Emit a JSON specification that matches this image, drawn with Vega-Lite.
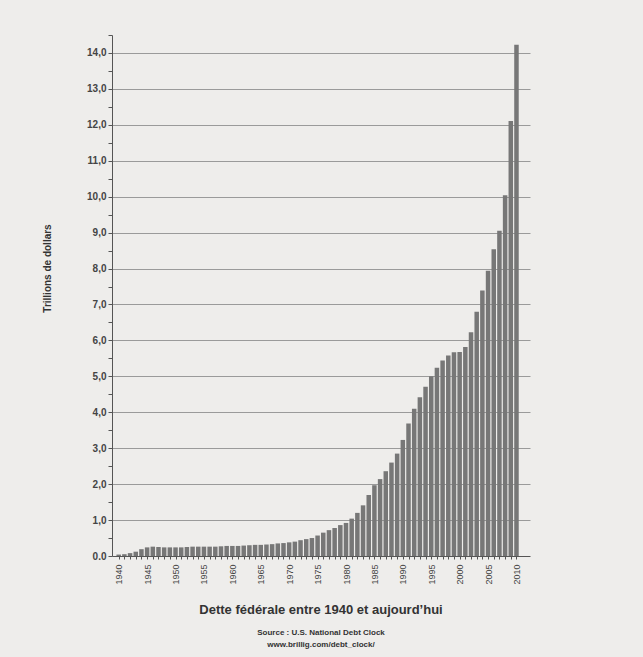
{
  "$schema": "https://vega.github.io/schema/vega-lite/v6.json",
  "autosize": "none",
  "width": 418,
  "height": 521,
  "padding": {"left": 112, "top": 35, "right": 113, "bottom": 101},
  "background": "#eeedeb",
  "config": {
    "font": "Liberation Sans",
    "view": {"stroke": null},
    "title": {"color": "#333333"}
  },
  "title": {
    "text": "Dette fédérale entre 1940 et aujourd’hui",
    "subtitle": ["Source : U.S. National Debt Clock", "www.brillig.com/debt_clock/"],
    "orient": "bottom",
    "anchor": "middle",
    "font": "Liberation Sans",
    "fontSize": 13,
    "fontWeight": "bold",
    "color": "#333333",
    "subtitleFont": "Liberation Sans",
    "subtitleFontSize": 8,
    "subtitleFontWeight": "bold",
    "subtitleColor": "#333333",
    "subtitlePadding": 12,
    "subtitleLineHeight": 12,
    "offset": 20
  },
  "data": {
    "values": [
      {"year": 1940, "debt": 0.04}, {"year": 1941, "debt": 0.05}, {"year": 1942, "debt": 0.08},
      {"year": 1943, "debt": 0.12}, {"year": 1944, "debt": 0.19}, {"year": 1945, "debt": 0.24},
      {"year": 1946, "debt": 0.26}, {"year": 1947, "debt": 0.25}, {"year": 1948, "debt": 0.24},
      {"year": 1949, "debt": 0.24}, {"year": 1950, "debt": 0.24}, {"year": 1951, "debt": 0.24},
      {"year": 1952, "debt": 0.25}, {"year": 1953, "debt": 0.26}, {"year": 1954, "debt": 0.26},
      {"year": 1955, "debt": 0.26}, {"year": 1956, "debt": 0.26}, {"year": 1957, "debt": 0.26},
      {"year": 1958, "debt": 0.27}, {"year": 1959, "debt": 0.28}, {"year": 1960, "debt": 0.28},
      {"year": 1961, "debt": 0.28}, {"year": 1962, "debt": 0.29}, {"year": 1963, "debt": 0.30},
      {"year": 1964, "debt": 0.31}, {"year": 1965, "debt": 0.31}, {"year": 1966, "debt": 0.32},
      {"year": 1967, "debt": 0.33}, {"year": 1968, "debt": 0.35}, {"year": 1969, "debt": 0.36},
      {"year": 1970, "debt": 0.38}, {"year": 1971, "debt": 0.40}, {"year": 1972, "debt": 0.44},
      {"year": 1973, "debt": 0.47}, {"year": 1974, "debt": 0.50}, {"year": 1975, "debt": 0.57},
      {"year": 1976, "debt": 0.65}, {"year": 1977, "debt": 0.72}, {"year": 1978, "debt": 0.78},
      {"year": 1979, "debt": 0.86}, {"year": 1980, "debt": 0.92}, {"year": 1981, "debt": 1.04},
      {"year": 1982, "debt": 1.20}, {"year": 1983, "debt": 1.41}, {"year": 1984, "debt": 1.70},
      {"year": 1985, "debt": 1.97}, {"year": 1986, "debt": 2.14}, {"year": 1987, "debt": 2.36},
      {"year": 1988, "debt": 2.60}, {"year": 1989, "debt": 2.85}, {"year": 1990, "debt": 3.23},
      {"year": 1991, "debt": 3.69}, {"year": 1992, "debt": 4.10}, {"year": 1993, "debt": 4.42},
      {"year": 1994, "debt": 4.71}, {"year": 1995, "debt": 5.00}, {"year": 1996, "debt": 5.24},
      {"year": 1997, "debt": 5.44}, {"year": 1998, "debt": 5.58}, {"year": 1999, "debt": 5.67},
      {"year": 2000, "debt": 5.68}, {"year": 2001, "debt": 5.82}, {"year": 2002, "debt": 6.23},
      {"year": 2003, "debt": 6.80}, {"year": 2004, "debt": 7.39}, {"year": 2005, "debt": 7.94},
      {"year": 2006, "debt": 8.54}, {"year": 2007, "debt": 9.05}, {"year": 2008, "debt": 10.04},
      {"year": 2009, "debt": 12.11}, {"year": 2010, "debt": 14.23}
    ]
  },
  "mark": {"type": "bar", "size": 4.5, "color": "#777777"},
  "encoding": {
    "x": {
      "field": "year",
      "type": "quantitative",
      "scale": {"domain": [1939.7, 2011.5], "nice": false, "zero": false},
      "axis": {
        "title": null,
        "grid": false,
        "values": [1940,1941,1942,1943,1944,1945,1946,1947,1948,1949,1950,1951,1952,1953,1954,1955,1956,1957,1958,1959,1960,1961,1962,1963,1964,1965,1966,1967,1968,1969,1970,1971,1972,1973,1974,1975,1976,1977,1978,1979,1980,1981,1982,1983,1984,1985,1986,1987,1988,1989,1990,1991,1992,1993,1994,1995,1996,1997,1998,1999,2000,2001,2002,2003,2004,2005,2006,2007,2008,2009,2010],
        "format": "d",
        "labelExpr": "datum.value % 5 === 0 ? datum.label : ''",
        "labelAngle": -90,
        "labelAlign": "right",
        "labelBaseline": "middle",
        "labelFontSize": 9,
        "labelColor": "#444444",
        "labelPadding": 5,
        "labelOverlap": false,
        "labelFlush": false,
        "tickSize": 3,
        "tickColor": "#555555",
        "domainColor": "#555555",
        "domainWidth": 1
      }
    },
    "y": {
      "field": "debt",
      "type": "quantitative",
      "scale": {"domain": [0, 14.5], "nice": false},
      "axis": {
        "title": "Trillions de dollars",
        "titleFontSize": 10,
        "titleFontWeight": "bold",
        "titleColor": "#333333",
        "titleX": -65,
        "titleY": 233,
        "titleAngle": -90,
        "titleAlign": "center",
        "titleBaseline": "middle",
        "values": [0,0.5,1,1.5,2,2.5,3,3.5,4,4.5,5,5.5,6,6.5,7,7.5,8,8.5,9,9.5,10,10.5,11,11.5,12,12.5,13,13.5,14,14.5],
        "labelExpr": "datum.value % 1 === 0 ? (datum.value === 0 ? '0.0' : replace(format(datum.value, '.1f'), '.', ',')) : ''",
        "labelFontSize": 10,
        "labelFontWeight": "bold",
        "labelColor": "#444444",
        "labelPadding": 2,
        "tickSize": 4,
        "tickColor": "#555555",
        "domainColor": "#555555",
        "grid": true,
        "gridColor": "#9a9a9a",
        "gridWidth": 1,
        "gridOpacity": {"condition": {"test": "datum.value % 1 === 0 && datum.value > 0", "value": 1}, "value": 0}
      }
    }
  }
}
